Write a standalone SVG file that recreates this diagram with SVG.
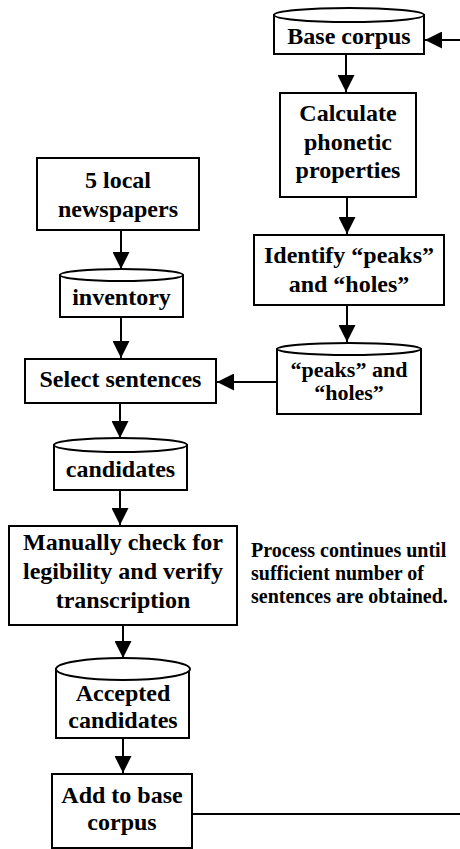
<svg xmlns="http://www.w3.org/2000/svg" width="460" height="849" viewBox="0 0 460 849">
<style>
.b{fill:#fff;stroke:#000;stroke-width:2}
.t{font-family:'Liberation Serif','Times New Roman','DejaVu Serif',serif;font-weight:700;font-size:24px;text-anchor:middle;fill:#000}
.s{font-size:22px}
.n{font-family:'Liberation Serif','Times New Roman','DejaVu Serif',serif;font-weight:700;font-size:20px;fill:#000}
.c{fill:none;stroke:#000;stroke-width:2}
</style>
<defs>
<marker id="ah" viewBox="0 0 10 10" refX="10" refY="5" markerUnits="userSpaceOnUse" markerWidth="17" markerHeight="17" orient="auto">
<path d="M0,0 L10,5 L0,10 z" fill="#000"/>
</marker>
</defs>
<rect width="460" height="849" fill="#fff"/>
<g id="connectors">
<path class="c" d="M460,40 L425,40" marker-end="url(#ah)"/>
<path class="c" d="M346,54 L346,92" marker-end="url(#ah)"/>
<path class="c" d="M347,197 L347,234" marker-end="url(#ah)"/>
<path class="c" d="M347,305 L347,342" marker-end="url(#ah)"/>
<path class="c" d="M121,230 L121,269" marker-end="url(#ah)"/>
<path class="c" d="M121,317 L121,358" marker-end="url(#ah)"/>
<path class="c" d="M277,382 L217,382" marker-end="url(#ah)"/>
<path class="c" d="M120,403 L120,438" marker-end="url(#ah)"/>
<path class="c" d="M120,490 L120,525" marker-end="url(#ah)"/>
<path class="c" d="M123,625 L123,658" marker-end="url(#ah)"/>
<path class="c" d="M123,738 L123,773" marker-end="url(#ah)"/>
<path class="c" d="M192,814 L460,814"/>
</g>
<g id="base-corpus">
<rect class="b" x="274" y="15" width="150" height="39"/>
<ellipse class="b" cx="349" cy="15" rx="75" ry="7"/>
<text class="t" x="349" y="44">Base corpus</text>
</g>
<g id="calculate">
<rect class="b" x="280" y="93" width="136" height="104"/>
<text class="t" x="348" y="121">Calculate</text>
<text class="t" x="348" y="150">phonetic</text>
<text class="t" x="348" y="178">properties</text>
</g>
<g id="newspapers">
<rect class="b" x="37" y="158" width="162" height="72"/>
<text class="t" x="118" y="188">5 local</text>
<text class="t" x="118" y="217">newspapers</text>
</g>
<g id="inventory">
<rect class="b" x="60" y="275" width="123" height="42"/>
<ellipse class="b" cx="121.5" cy="275" rx="61.5" ry="6"/>
<text class="t" x="121.5" y="305">inventory</text>
</g>
<g id="identify">
<rect class="b" x="254" y="235" width="190" height="70"/>
<text class="t" x="349" y="263">Identify “peaks”</text>
<text class="t" x="349" y="292">and “holes”</text>
</g>
<g id="peaks-holes">
<rect class="b" x="277" y="349" width="144" height="65"/>
<ellipse class="b" cx="349" cy="349" rx="72" ry="6"/>
<text class="t s" x="349" y="377">“peaks” and</text>
<text class="t s" x="349" y="400">“holes”</text>
</g>
<g id="select">
<rect class="b" x="25" y="359" width="191" height="44"/>
<text class="t" x="120.5" y="387">Select sentences</text>
</g>
<g id="candidates">
<rect class="b" x="54" y="445" width="133" height="45"/>
<ellipse class="b" cx="120.5" cy="445" rx="66.5" ry="7"/>
<text class="t" x="120.5" y="477">candidates</text>
</g>
<g id="manually">
<rect class="b" x="9" y="526" width="228" height="99"/>
<text class="t" x="123" y="550">Manually check for</text>
<text class="t" x="123" y="579">legibility and verify</text>
<text class="t" x="123" y="608">transcription</text>
</g>
<g id="note">
<text class="n" x="251" y="557">Process continues until</text>
<text class="n" x="251" y="580">sufficient number of</text>
<text class="n" x="251" y="603">sentences are obtained.</text>
</g>
<g id="accepted">
<rect class="b" x="56" y="669" width="133" height="69"/>
<ellipse class="b" cx="123" cy="669" rx="67" ry="11"/>
<text class="t" x="123" y="701">Accepted</text>
<text class="t" x="123" y="728">candidates</text>
</g>
<g id="add">
<rect class="b" x="52" y="774" width="140" height="74"/>
<text class="t" x="122" y="803">Add to base</text>
<text class="t" x="122" y="830">corpus</text>
</g>
</svg>
